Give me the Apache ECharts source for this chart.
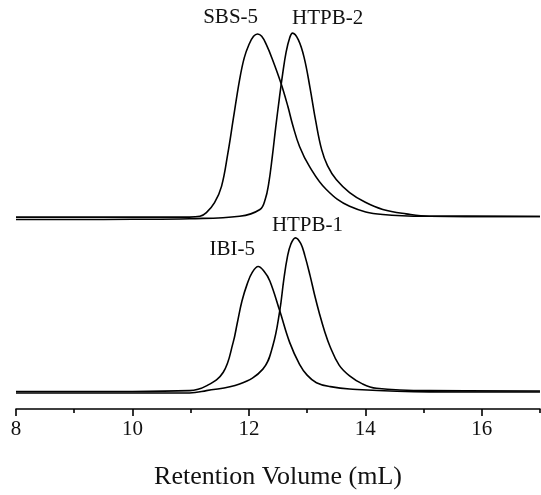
<!DOCTYPE html>
<html>
<head>
<meta charset="utf-8">
<script src="https://cdn.jsdelivr.net/npm/echarts@6/dist/echarts.min.js"></script>
<style>
  html, body { margin: 0; padding: 0; background: #fff; }
  #main { width: 541px; height: 495px; }
</style>
</head>
<body>
<div id="main"></div>
<script>
// curves: x = retention volume (mL), y = stacked signal (arb.)
var sbs5X = [8, 9, 10, 10.5, 10.98, 11.16, 11.27, 11.41, 11.53, 11.64, 11.73, 11.84, 11.92, 12.0, 12.08, 12.15, 12.22, 12.3, 12.4, 12.55, 12.67, 12.75, 12.87, 13.04, 13.33, 13.73, 14.3, 15.1, 17];
var sbs5Y = [48.1, 48.1, 48.1, 48.1, 48.1, 48.3, 49.2, 51.7, 55.8, 64.2, 72.5, 82.5, 88.0, 91.3, 93.4, 94.0, 93.4, 91.3, 87.8, 81.7, 75.8, 71.3, 65.8, 60.8, 55.0, 50.8, 48.75, 48.3, 48.25];

var htpb2X = [8, 9, 10, 10.98, 11.84, 12.19, 12.28, 12.34, 12.4, 12.46, 12.52, 12.58, 12.64, 12.7, 12.75, 12.85, 12.95, 13.05, 13.15, 13.25, 13.35, 13.5, 13.73, 14.0, 14.3, 14.7, 15.1, 17];
var htpb2Y = [47.5, 47.5, 47.55, 47.7, 48.3, 50.0, 52.5, 56.5, 63.0, 70.5, 77.5, 84.0, 89.5, 93.0, 94.2, 92.5, 88.0, 80.5, 72.0, 65.0, 61.0, 57.5, 54.25, 51.8, 50.0, 48.9, 48.3, 48.25];

var ibi5X = [8, 10, 10.98, 11.27, 11.56, 11.73, 11.8, 11.88, 11.97, 12.06, 12.16, 12.26, 12.36, 12.53, 12.7, 12.87, 13.0, 13.16, 13.4, 13.73, 15.1, 17];
var ibi5Y = [4.4, 4.4, 4.6, 5.8, 9.2, 16.7, 21.5, 27.0, 31.3, 34.3, 35.7, 34.5, 32.1, 24.6, 16.7, 11.2, 8.5, 6.6, 5.6, 5.0, 4.3, 4.25];

var htpb1X = [8, 10, 10.98, 11.27, 11.84, 12.24, 12.41, 12.53, 12.6, 12.66, 12.72, 12.8, 12.89, 12.96, 13.05, 13.13, 13.21, 13.3, 13.39, 13.55, 13.73, 13.95, 14.19, 15.1, 17];
var htpb1Y = [4.0, 4.0, 4.0, 4.6, 6.25, 10.0, 15.8, 24.6, 32.5, 38.0, 41.3, 42.9, 41.5, 38.5, 33.5, 28.5, 24.0, 19.5, 15.8, 11.0, 8.3, 6.3, 5.2, 4.6, 4.5];

var names = ['SBS-5', 'HTPB-2', 'IBI-5', 'HTPB-1'];
var majorTicks = [8, 10, 12, 14, 16];
var minorTicks = [9, 11, 13, 15, 17];

function pairs(xs, ys) {
  return xs.map(function (x, i) { return [x, ys[i]]; });
}

var font = '"Liberation Serif", "Times New Roman", serif';

// label offsets from each peak, in pixels
var labelOffsets = [[-27, -16], [35, -15], [-26, -17], [12, -12]];

function curve(name, xs, ys, k) {
  return {
    name: name,
    type: 'line',
    data: pairs(xs, ys),
    xAxisIndex: 0,
    showSymbol: false,
    smooth: 0.4,
    lineStyle: { color: '#000', width: 1.6 },
    silent: true,
    markPoint: {
      symbol: 'circle',
      symbolSize: 0,
      itemStyle: { color: 'transparent' },
      label: {
        show: true,
        position: 'inside',
        offset: labelOffsets[k],
        formatter: name,
        color: '#111',
        fontSize: 21,
        fontFamily: font
      },
      data: [{ type: 'max', name: name }]
    }
  };
}

var chart = echarts.init(document.getElementById('main'));

var option = {
  backgroundColor: '#fff',
  animation: false,
  grid: { left: 16, right: 1, top: 10, bottom: 85 },
  xAxis: [{
    type: 'value',
    min: 8,
    max: 17,
    position: 'bottom',
    name: 'Retention Volume (mL)',
    nameLocation: 'middle',
    nameGap: 55,
    nameTextStyle: { color: '#111', fontSize: 26, fontFamily: font },
    axisLine: { show: true, lineStyle: { color: '#000', width: 1.6 } },
    axisTick: { show: true, inside: false, length: 7, customValues: majorTicks, lineStyle: { color: '#000', width: 1.6 } },
    axisLabel: { show: true, margin: 10, customValues: majorTicks, color: '#111', fontSize: 21, fontFamily: font },
    splitLine: { show: false }
  }, {
    type: 'value',
    min: 8,
    max: 17,
    position: 'bottom',
    axisLine: { show: false },
    axisTick: { show: true, inside: false, length: 4, customValues: minorTicks, lineStyle: { color: '#000', width: 1.6 } },
    axisLabel: { show: false },
    splitLine: { show: false }
  }],
  yAxis: {
    type: 'value',
    min: 0,
    max: 100,
    show: false
  },
  series: [
    curve(names[0], sbs5X, sbs5Y, 0),
    curve(names[1], htpb2X, htpb2Y, 1),
    curve(names[2], ibi5X, ibi5Y, 2),
    curve(names[3], htpb1X, htpb1Y, 3)
  ]
};

chart.setOption(option);
</script>
</body>
</html>
